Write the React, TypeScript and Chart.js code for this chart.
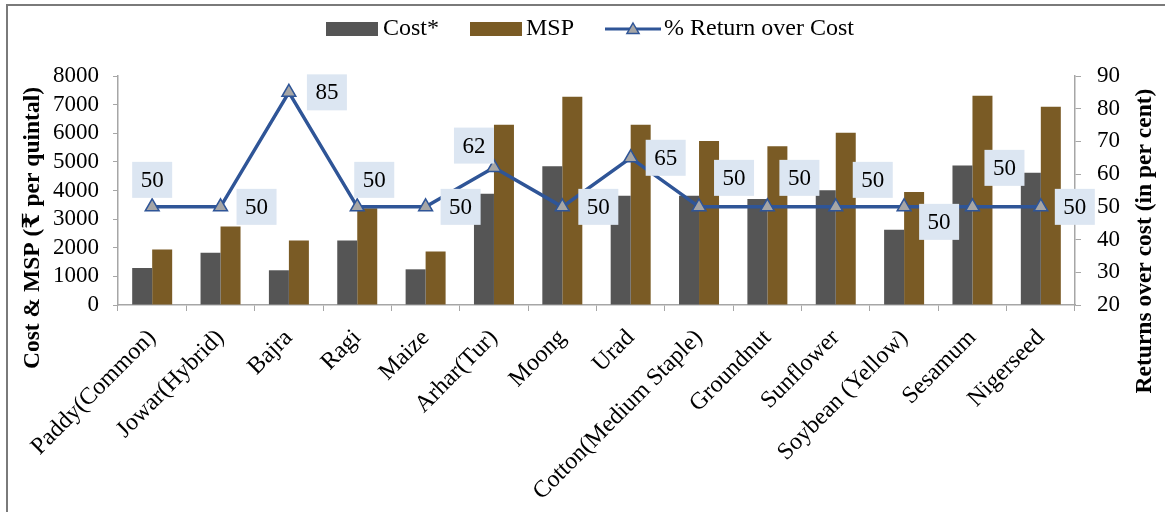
import React, { useEffect, useRef } from "react";
import { Chart, registerables } from "chart.js";

Chart.register(...registerables);

// ---- data ----
const categories = [
  "Paddy(Common)",
  "Jowar(Hybrid)",
  "Bajra",
  "Ragi",
  "Maize",
  "Arhar(Tur)",
  "Moong",
  "Urad",
  "Cotton(Medium Staple)",
  "Groundnut",
  "Sunflower",
  "Soybean (Yellow)",
  "Sesamum",
  "Nigerseed",
];
const costValues = [1293, 1825, 1213, 2251, 1246, 3886, 4850, 3816, 3817, 3699, 4010, 2633, 4871, 4620];
const mspValues = [1940, 2738, 2250, 3377, 1870, 6300, 7275, 6300, 5726, 5550, 6015, 3950, 7307, 6930];
const returnValues = [50, 50, 85, 50, 50, 62, 50, 65, 50, 50, 50, 50, 50, 50];

const seriesNames = ["Cost*", "MSP", "% Return over Cost"];
const leftAxisTitle = "Cost & MSP (\u20B9 per quintal)";
const rightAxisTitle = "Returns over cost (in per cent)";
const leftAxisRange = { min: 0, max: 8000, step: 1000 };
const rightAxisRange = { min: 20, max: 90, step: 10 };

// ---- styles ----
const FONT = '"Liberation Serif", "Times New Roman", "DejaVu Serif", serif';
const COST_COLOR = "#555555";
const MSP_COLOR = "#7a5b25";
const LINE_COLOR = "#2f5597";
const MARKER_FILL = "#a6a6a6";
const LABEL_BOX = "#dce6f2";
const AXIS_COLOR = "#a6a6a6";
// label box offsets (dx, dy) relative to each line point
const labelOffsets: [number, number][] = [
  [0, -27], [36, 0], [38, 0], [17, -27], [35, 0], [-20, -22], [36, 0],
  [35, 0], [35, -29], [32, -29], [37, -27], [35, 15], [32, -39], [34, 0],
];

const decorPlugin = {
  id: "decor",
  beforeDraw(chart: any) {
    const ctx = chart.ctx;
    ctx.save();
    ctx.fillStyle = "#ffffff";
    ctx.fillRect(0, 0, chart.width, chart.height);
    ctx.strokeStyle = "#7a7a7a";
    ctx.lineWidth = 2;
    ctx.beginPath();
    ctx.moveTo(7, chart.height);
    ctx.lineTo(7, 5);
    ctx.lineTo(chart.width, 5);
    ctx.stroke();
    ctx.restore();
  },
  afterDatasetsDraw(chart: any) {
    const ctx = chart.ctx;
    const meta = chart.getDatasetMeta(2);
    ctx.save();
    ctx.font = `23px ${FONT}`;
    ctx.textAlign = "center";
    ctx.textBaseline = "middle";
    meta.data.forEach((pt: any, i: number) => {
      const [dx, dy] = labelOffsets[i];
      const cx = pt.x + dx;
      const cy = pt.y + dy;
      const w = 40;
      const h = 36;
      ctx.fillStyle = LABEL_BOX;
      ctx.fillRect(cx - w / 2, cy - h / 2, w, h);
      ctx.fillStyle = "#000";
      ctx.fillText(String(returnValues[i]), cx, cy + 1);
    });
    ctx.restore();
  },
  afterDraw(chart: any) {
    const ctx = chart.ctx;
    ctx.save();
    // axis titles
    ctx.font = `bold 23.5px ${FONT}`;
    ctx.fillStyle = "#000";
    ctx.textAlign = "center";
    ctx.textBaseline = "middle";
    ctx.save();
    ctx.translate(33, 228);
    ctx.rotate(-Math.PI / 2);
    ctx.fillText(leftAxisTitle, 0, 0);
    ctx.restore();
    ctx.save();
    ctx.translate(1145, 241);
    ctx.rotate(-Math.PI / 2);
    ctx.fillText(rightAxisTitle, 0, 0);
    ctx.restore();

    // legend
    const ly = 29;
    ctx.font = `24px ${FONT}`;
    ctx.textAlign = "left";
    ctx.textBaseline = "middle";
    const ds = chart.data.datasets;
    ctx.fillStyle = ds[0].backgroundColor;
    ctx.fillRect(326, ly - 7, 52, 14);
    ctx.fillStyle = "#000";
    ctx.fillText(ds[0].label, 383, ly);
    ctx.fillStyle = ds[1].backgroundColor;
    ctx.fillRect(470, ly - 7, 52, 14);
    ctx.fillStyle = "#000";
    ctx.fillText(ds[1].label, 526, ly);
    ctx.strokeStyle = ds[2].borderColor;
    ctx.lineWidth = 3;
    ctx.beginPath();
    ctx.moveTo(605, ly);
    ctx.lineTo(661, ly);
    ctx.stroke();
    const r = 7;
    const tx = 633;
    const ty = ly + 1;
    ctx.beginPath();
    ctx.moveTo(tx, ty - r);
    ctx.lineTo(tx + r * 0.866, ty + r / 2);
    ctx.lineTo(tx - r * 0.866, ty + r / 2);
    ctx.closePath();
    ctx.fillStyle = MARKER_FILL;
    ctx.fill();
    ctx.lineWidth = 1.5;
    ctx.stroke();
    ctx.fillStyle = "#000";
    ctx.fillText(ds[2].label, 664, ly);
    ctx.restore();
  },
};

export default function App() {
  const canvasRef = useRef<HTMLCanvasElement | null>(null);

  useEffect(() => {
    if (!canvasRef.current) return;
    const chart = new Chart(canvasRef.current, {
      type: "bar",
      data: {
        labels: categories,
        datasets: [
          {
            type: "bar",
            label: seriesNames[0],
            data: costValues,
            backgroundColor: COST_COLOR,
            borderWidth: 0,
            yAxisID: "y",
            order: 2,
            categoryPercentage: 0.585,
            barPercentage: 1,
          },
          {
            type: "bar",
            label: seriesNames[1],
            data: mspValues,
            backgroundColor: MSP_COLOR,
            borderWidth: 0,
            yAxisID: "y",
            order: 2,
            categoryPercentage: 0.585,
            barPercentage: 1,
          },
          {
            type: "line",
            label: seriesNames[2],
            data: returnValues,
            borderColor: LINE_COLOR,
            borderWidth: 3.5,
            tension: 0,
            pointStyle: "triangle",
            pointRadius: 8,
            pointBackgroundColor: MARKER_FILL,
            pointBorderColor: LINE_COLOR,
            pointBorderWidth: 1.5,
            yAxisID: "y1",
            order: 1,
          } as any,
        ],
      },
      options: {
        responsive: false,
        animation: false,
        devicePixelRatio: 1,
        layout: { padding: { top: 76, left: 0, right: 0, bottom: 0 } },
        plugins: {
          legend: { display: false },
          tooltip: { enabled: false },
          title: { display: false },
        },
        scales: {
          x: {
            offset: true,
            grid: {
              display: true,
              offset: true,
              drawOnChartArea: false,
              drawTicks: true,
              tickLength: 6,
              color: AXIS_COLOR,
            },
            border: { color: AXIS_COLOR, width: 1.5 },
            ticks: {
              font: { family: FONT, size: 24 },
              color: "#000",
              minRotation: 45,
              maxRotation: 45,
              autoSkip: false,
              padding: 13,
            },
            afterFit: (s: any) => {
              s.height = 207;
            },
          },
          y: {
            position: "left",
            min: leftAxisRange.min,
            max: leftAxisRange.max,
            grid: { drawOnChartArea: false, tickLength: 5, color: AXIS_COLOR },
            border: { color: AXIS_COLOR, width: 1.5 },
            ticks: {
              stepSize: leftAxisRange.step,
              autoSkip: false,
              callback: (v: any) => String(v),
              font: { family: FONT, size: 23 },
              color: "#000",
              padding: 14,
            },
            afterFit: (s: any) => {
              s.width = 118;
            },
          },
          y1: {
            position: "right",
            min: rightAxisRange.min,
            max: rightAxisRange.max,
            grid: { drawOnChartArea: false, tickLength: 6, color: AXIS_COLOR },
            border: { color: AXIS_COLOR, width: 1.5 },
            ticks: {
              stepSize: rightAxisRange.step,
              autoSkip: false,
              callback: (v: any) => String(v),
              font: { family: FONT, size: 23 },
              color: "#000",
              padding: 16,
            },
            afterFit: (s: any) => {
              s.width = 90;
            },
          },
        },
      } as any,
      plugins: [decorPlugin],
    });
    return () => chart.destroy();
  }, []);

  return (
    <div
      style={{
        position: "fixed",
        left: 0,
        top: 0,
        width: 1165,
        height: 512,
        background: "#fff",
      }}
    >
      <canvas ref={canvasRef} width={1165} height={512} />
    </div>
  );
}
